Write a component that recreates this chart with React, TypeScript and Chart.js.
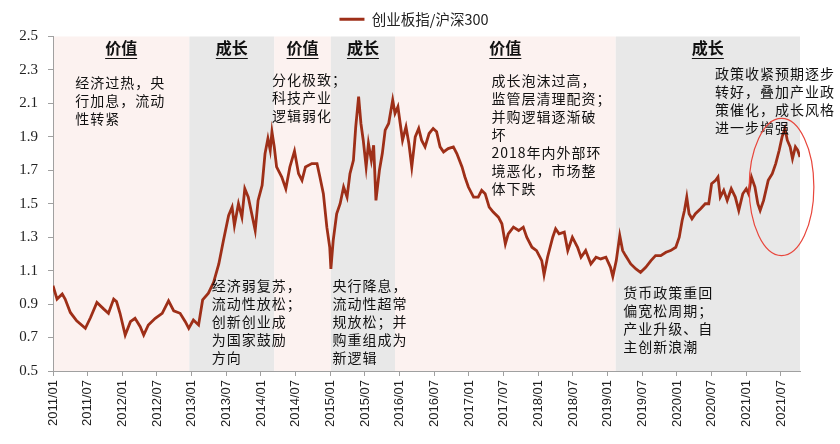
import React, { useEffect, useRef } from 'react';
import { Chart, registerables } from 'chart.js';

Chart.register(...registerables);

// months since 2011/01
const months = [
  0, 0.7, 1.6, 2.1, 3.0, 4.1, 5.6, 6.5, 7.6, 8.8, 9.6, 10.5, 11.0, 11.6, 12.5, 13.4, 14.2, 15.1, 15.7, 16.5,
  17.7, 18.9, 20.0, 20.9, 22.0, 22.9, 23.5, 24.3, 25.2, 25.9, 26.9, 27.8, 28.7, 29.5, 30.4, 31.0, 31.4, 32.1, 32.7, 33.2,
  33.8, 34.4, 35.0, 35.5, 36.2, 36.7, 37.2, 37.6, 37.9, 38.3, 38.7, 39.6, 40.3, 41.0, 41.8, 42.5, 43.1, 43.7, 44.8, 45.7,
  46.2, 46.8, 47.4, 47.9, 48.1, 48.5, 49.1, 49.7, 50.3, 50.9, 51.4, 52.0, 52.4, 52.9, 53.3, 53.7, 54.2, 54.6, 55.1, 55.5,
  55.9, 56.5, 57.0, 57.5, 58.1, 58.8, 59.2, 59.7, 60.1, 60.5, 61.1, 61.6, 62.1, 62.7, 63.3, 63.8, 64.4, 65.1, 65.8, 66.4,
  67.0, 67.6, 68.4, 69.3, 69.9, 70.8, 71.3, 71.9, 72.8, 73.6, 74.2, 74.8, 75.5, 76.2, 77.1, 77.7, 78.3, 78.8, 79.7, 80.6,
  81.4, 82.0, 82.9, 83.7, 84.6, 85.0, 85.6, 86.5, 87.0, 87.6, 88.5, 89.1, 89.9, 90.8, 91.4, 92.2, 93.1, 94.0, 94.8, 95.7,
  96.5, 96.9, 97.5, 98.1, 98.6, 99.1, 100.0, 100.9, 101.7, 102.6, 103.5, 104.3, 105.2, 106.1, 106.9, 107.8, 108.4, 108.9, 109.3, 109.7,
  110.1, 110.6, 111.2, 112.1, 112.9, 113.5, 114.0, 114.7, 115.1, 115.5, 116.1, 116.7, 117.4, 118.1, 118.7, 119.4, 120.0, 120.4, 120.9, 121.5,
  122.0, 122.4, 123.0, 123.8, 124.5, 125.1, 125.7, 126.2, 126.7, 127.1, 127.6, 128.0, 128.5, 128.9, 129.3,
];

// 创业板指/沪深300
const ratio = [
  1.01, 0.93, 0.96, 0.93, 0.85, 0.80, 0.755, 0.82, 0.91, 0.87, 0.845, 0.93, 0.915, 0.845, 0.715, 0.795, 0.815, 0.765, 0.715, 0.775,
  0.815, 0.845, 0.92, 0.86, 0.845, 0.795, 0.755, 0.805, 0.775, 0.925, 0.965, 1.03, 1.14, 1.28, 1.43, 1.48, 1.37, 1.50, 1.42, 1.59,
  1.54, 1.44, 1.34, 1.52, 1.61, 1.80, 1.89, 1.82, 1.93, 1.84, 1.72, 1.66, 1.59, 1.72, 1.815, 1.68, 1.64, 1.72, 1.74, 1.74,
  1.66, 1.56, 1.36, 1.24, 1.11, 1.28, 1.44, 1.50, 1.60, 1.54, 1.68, 1.76, 1.96, 2.14, 1.98, 1.88, 1.72, 1.86, 1.76, 1.85,
  1.52, 1.70, 1.80, 1.94, 1.98, 2.12, 2.04, 2.08, 1.98, 1.88, 1.96, 1.86, 1.72, 1.90, 1.95, 1.88, 1.84, 1.92, 1.95, 1.93,
  1.84, 1.81, 1.83, 1.84, 1.80, 1.72, 1.66, 1.60, 1.54, 1.54, 1.58, 1.56, 1.48, 1.45, 1.42, 1.38, 1.26, 1.32, 1.36, 1.34,
  1.36, 1.30, 1.24, 1.22, 1.16, 1.075, 1.18, 1.30, 1.35, 1.32, 1.33, 1.22, 1.30, 1.24, 1.18, 1.22, 1.14, 1.18, 1.17, 1.18,
  1.12, 1.065, 1.16, 1.31, 1.22, 1.19, 1.14, 1.11, 1.09, 1.12, 1.16, 1.19, 1.19, 1.21, 1.22, 1.24, 1.30, 1.40, 1.46, 1.54,
  1.44, 1.41, 1.44, 1.47, 1.50, 1.50, 1.62, 1.64, 1.66, 1.54, 1.58, 1.52, 1.59, 1.54, 1.46, 1.56, 1.59, 1.56, 1.66, 1.60,
  1.50, 1.46, 1.52, 1.64, 1.68, 1.74, 1.82, 1.90, 1.95, 1.88, 1.84, 1.77, 1.84, 1.82, 1.78,
];

const xTickMonths = [0, 6, 12, 18, 24, 30, 36, 42, 48, 54, 60, 66, 72, 78, 84, 90, 96, 102, 108, 114, 120, 126];
const xTickLabels = [
  '2011/01', '2011/07', '2012/01', '2012/07', '2013/01', '2013/07', '2014/01', '2014/07', '2015/01', '2015/07', '2016/01',
  '2016/07', '2017/01', '2017/07', '2018/01', '2018/07', '2019/01', '2019/07', '2020/01', '2020/07', '2021/01', '2021/07',
];
const yTicks = [0.5, 0.7, 0.9, 1.1, 1.3, 1.5, 1.7, 1.9, 2.1, 2.3, 2.5];

const X_MAX = 129.3;

// style periods
const bandStart = [0, 23.6, 38.3, 48.1, 59.2, 97.4];
const bandEnd = [23.6, 38.3, 48.1, 59.2, 97.4, X_MAX];
const bandLabel = ['价值', '成长', '价值', '成长', '价值', '成长'];

// commentary
const noteMonth = [3.85, 37.9, 75.9, 114.6, 27.5, 48.4, 98.7];
const noteValue = [2.225, 2.243, 2.237, 2.279, 1.013, 1.013, 0.966];
const noteLines = [
  ['经济过热，央', '行加息，流动', '性转紧'],
  ['分化极致；', '科技产业', '逻辑弱化'],
  ['成长泡沫过高，', '监管层清理配资；', '并购逻辑逐渐破', '坏', '2018年内外部环', '境恶化，市场整', '体下跌'],
  ['政策收紧预期逐步', '转好，叠加产业政', '策催化，成长风格', '进一步增强'],
  ['经济弱复苏，', '流动性放松；', '创新创业成', '为国家鼓励', '方向'],
  ['央行降息，', '流动性超常', '规放松；并', '购重组成为', '新逻辑'],
  ['货币政策重回', '偏宽松周期；', '产业升级、自', '主创新浪潮'],
];

// highlight ellipse (center month, center value, half width in months, half height in value)
const ellipseSpec = [126.1, 1.6, 5.6, 0.41];

const CJK = '"Noto Sans CJK SC", "Noto Sans", sans-serif';

export default function App() {
  const ref = useRef<HTMLCanvasElement>(null);

  useEffect(() => {
    const canvas = ref.current;
    if (!canvas) return;

    const overlay = {
      id: 'overlay',
      afterLayout(chart: any) {
        // centre the legend over the plot like the original
        const lg = chart.legend;
        if (lg) {
          lg.left += 14;
          lg.right += 14;
        }
      },
      beforeDraw(chart: any) {
        const { ctx, chartArea } = chart;
        const x = chart.scales.x;
        ctx.save();
        for (let i = 0; i < bandStart.length; i++) {
          const x0 = x.getPixelForValue(bandStart[i]);
          const x1 = x.getPixelForValue(bandEnd[i]);
          ctx.fillStyle = bandLabel[i] === '成长' ? '#E8E8E8' : '#FCF2F0';
          ctx.fillRect(x0, chartArea.top, x1 - x0, chartArea.bottom - chartArea.top);
        }
        ctx.restore();
      },
      afterDatasetsDraw(chart: any) {
        const { ctx, chartArea } = chart;
        const x = chart.scales.x;
        const y = chart.scales.y;
        ctx.save();
        // band titles
        ctx.font = `bold 16px ${CJK}`;
        ctx.fillStyle = '#111';
        ctx.strokeStyle = '#111';
        ctx.lineWidth = 1;
        ctx.textAlign = 'center';
        ctx.textBaseline = 'middle';
        const ty = chartArea.top + 11;
        for (let i = 0; i < bandStart.length; i++) {
          const cx = (x.getPixelForValue(bandStart[i]) + x.getPixelForValue(bandEnd[i])) / 2;
          ctx.fillText(bandLabel[i], cx, ty);
          const w = ctx.measureText(bandLabel[i]).width;
          ctx.beginPath();
          ctx.moveTo(cx - w / 2, ty + 11);
          ctx.lineTo(cx + w / 2, ty + 11);
          ctx.stroke();
        }
        // notes
        ctx.font = `14px ${CJK}`;
        (ctx as any).letterSpacing = '1px';
        ctx.textAlign = 'left';
        ctx.fillStyle = '#111';
        for (let i = 0; i < noteLines.length; i++) {
          const px = x.getPixelForValue(noteMonth[i]);
          const py = y.getPixelForValue(noteValue[i]);
          noteLines[i].forEach((line, j) => ctx.fillText(line, px, py + j * 18));
        }
        (ctx as any).letterSpacing = '0px';
        // ellipse
        const [em, ev, dm, dv] = ellipseSpec;
        const cx = x.getPixelForValue(em);
        const cy = y.getPixelForValue(ev);
        const rx = Math.abs(x.getPixelForValue(em + dm) - cx);
        const ry = Math.abs(y.getPixelForValue(ev + dv) - cy);
        ctx.beginPath();
        ctx.ellipse(cx, cy, rx, ry, 0, 0, Math.PI * 2);
        ctx.strokeStyle = '#E8463C';
        ctx.lineWidth = 1.2;
        ctx.stroke();
        ctx.restore();
      },
    };

    const chart = new Chart(canvas, {
      type: 'line',
      data: {
        datasets: [
          {
            label: '创业板指/沪深300',
            data: months.map((m, i) => ({ x: m, y: ratio[i] })),
            borderColor: '#9E2F18',
            backgroundColor: '#9E2F18',
            borderWidth: 2.8,
            pointRadius: 0,
            tension: 0,
            pointStyle: 'line',
          },
        ],
      },
      options: {
        animation: false,
        responsive: false,
        maintainAspectRatio: false,
        layout: { padding: { left: 0, right: 40, top: 2, bottom: 0 } },
        plugins: {
          tooltip: { enabled: false },
          legend: {
            display: true,
            position: 'top',
            labels: {
              usePointStyle: true,
              pointStyle: 'line',
              pointStyleWidth: 25,
              boxHeight: 14,
              padding: 10,
              color: '#222',
              font: { size: 14.5, family: CJK },
            },
          },
        },
        scales: {
          x: {
            type: 'linear',
            min: 0,
            max: X_MAX,
            afterBuildTicks: (s: any) => {
              s.ticks = xTickMonths.map((v) => ({ value: v }));
            },
            afterFit: (s: any) => {
              s.height = 73;
            },
            ticks: {
              autoSkip: false,
              maxRotation: 90,
              minRotation: 90,
              padding: 4,
              color: '#222',
              font: { size: 13, family: '"Liberation Sans", Arial, sans-serif' },
              callback: (_v: any, i: number) => xTickLabels[i] ?? '',
            },
            grid: { drawOnChartArea: false, drawTicks: true, tickLength: 5, color: '#A0A0A0' },
            border: { display: true, color: '#A0A0A0' },
          },
          y: {
            min: 0.5,
            max: 2.5,
            afterBuildTicks: (s: any) => {
              s.ticks = yTicks.map((v) => ({ value: v }));
            },
            afterFit: (s: any) => {
              s.width = 53;
            },
            ticks: {
              padding: 10,
              color: '#222',
              font: { size: 15, family: '"Liberation Serif", "Times New Roman", serif' },
              callback: (v: any) => Number(v).toFixed(1),
            },
            grid: { drawOnChartArea: false, drawTicks: true, tickLength: 5, color: '#A0A0A0' },
            border: { display: true, color: '#A0A0A0' },
          },
        },
      },
      plugins: [overlay],
    });

    return () => chart.destroy();
  }, []);

  return (
    <div style={{ position: 'fixed', left: 0, top: 0, width: 840, height: 444, background: '#fff' }}>
      <canvas ref={ref} width={840} height={444} style={{ width: 840, height: 444, display: 'block' }} />
    </div>
  );
}
